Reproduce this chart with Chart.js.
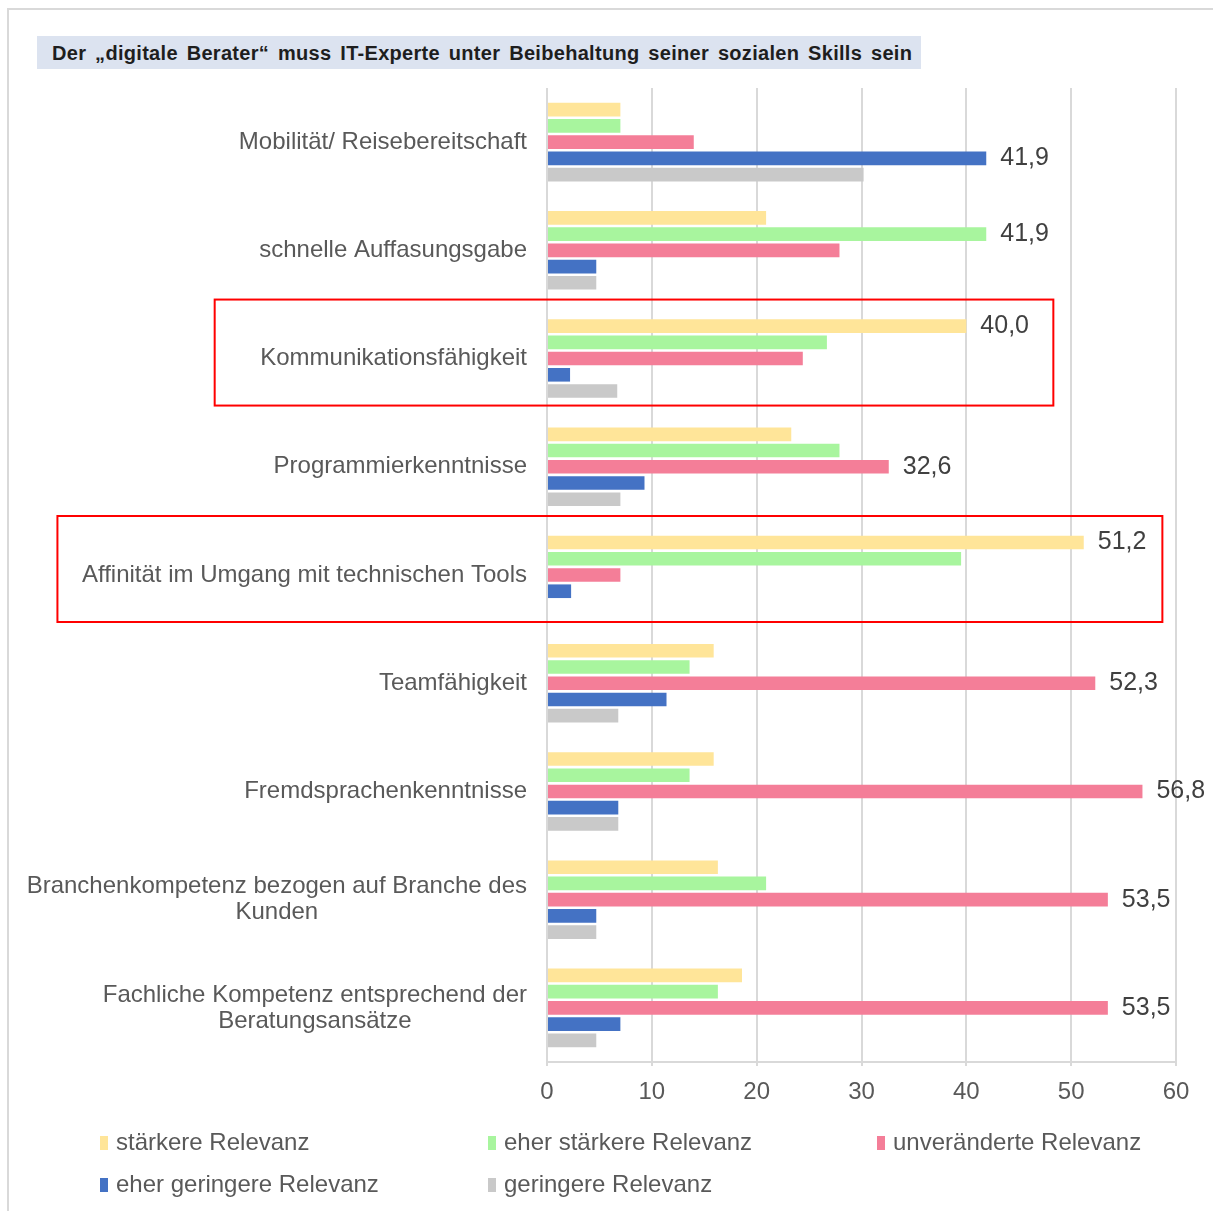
<!DOCTYPE html>
<html>
<head>
<meta charset="utf-8">
<script src="https://cdn.jsdelivr.net/npm/chart.js@4/dist/chart.umd.min.js"></script>
<style>
html, body { margin: 0; padding: 0; background: #fff; }
#wrap { position: relative; width: 1213px; height: 1211px; overflow: hidden; }
#frame { position: absolute; left: 7px; top: 8px; width: 1220px; height: 1220px; border-left: 2px solid #d9d9d9; border-top: 2px solid #d9d9d9; }
#title { position: absolute; left: 37px; top: 36px; width: 884px; height: 33px; background: #dce3f0;
  font: bold 20px "Liberation Sans", Arial, sans-serif; line-height: 34px; color: #1e1e1e;
  padding-left: 15px; box-sizing: border-box; white-space: nowrap; word-spacing: 3px; letter-spacing: 0.3px; }
canvas { position: absolute; left: 0; top: 0; }
</style>
</head>
<body>
<div id="wrap">
  <div id="frame"></div>
  <canvas id="bar-chart" width="1213" height="1211"></canvas>
  <div id="title">Der „digitale Berater“ muss IT-Experte unter Beibehaltung seiner sozialen Skills sein</div>
</div>
<script>
// Kategorien und Anteile in %
const categories = [
  "Mobilität/ Reisebereitschaft",
  "schnelle Auffasungsgabe",
  "Kommunikationsfähigkeit",
  "Programmierkenntnisse",
  "Affinität im Umgang mit technischen Tools",
  "Teamfähigkeit",
  "Fremdsprachenkenntnisse",
  ["Branchenkompetenz bezogen auf Branche des", "Kunden"],
  ["Fachliche Kompetenz entsprechend der", "Beratungsansätze"]
];
const staerkere     = [7.0, 20.9, 40.0, 23.3, 51.2, 15.9, 15.9, 16.3, 18.6];
const eherStaerkere = [7.0, 41.9, 26.7, 27.9, 39.5, 13.6, 13.6, 20.9, 16.3];
const unveraendert  = [14.0, 27.9, 24.4, 32.6, 7.0, 52.3, 56.8, 53.5, 53.5];
const eherGeringere = [41.9, 4.7, 2.2, 9.3, 2.3, 11.4, 6.8, 4.7, 7.0];
const geringere     = [30.2, 4.7, 6.7, 7.0, 0, 6.8, 6.8, 4.7, 4.7];
const xTicks = [0, 10, 20, 30, 40, 50, 60];

// rote Rahmen: Kategorie-Index und x-Ausdehnung in Achseneinheiten
const highlights = [
  { index: 2, from: -31.7, to: 48.3 },
  { index: 4, from: -46.7, to: 58.7 }
];

const FONT = '"Liberation Sans", Arial, sans-serif';

const yLabels = {
  id: 'yLabels',
  afterDraw(chart) {
    const ctx = chart.ctx, y = chart.scales.y;
    ctx.save();
    ctx.font = '24px ' + FONT;
    ctx.fillStyle = '#595959';
    ctx.textAlign = 'center';
    ctx.textBaseline = 'middle';
    chart.data.labels.forEach((lab, i) => {
      const lines = Array.isArray(lab) ? lab : [lab];
      const w = Math.max(...lines.map(l => ctx.measureText(l).width));
      const cx = chart.chartArea.left - 20 - w / 2;
      const cy = y.getPixelForTick(i);
      lines.forEach((l, j) => ctx.fillText(l, cx, cy + (j - (lines.length - 1) / 2) * 26));
    });
    ctx.restore();
  }
};

const valueLabels = {
  id: 'valueLabels',
  afterDatasetsDraw(chart) {
    const ctx = chart.ctx;
    ctx.save();
    ctx.font = '25px ' + FONT;
    ctx.fillStyle = '#404040';
    ctx.textAlign = 'left';
    ctx.textBaseline = 'middle';
    chart.data.labels.forEach((_, i) => {
      let best = 0;
      chart.data.datasets.forEach((ds, d) => { if (ds.data[i] > chart.data.datasets[best].data[i]) best = d; });
      const el = chart.getDatasetMeta(best).data[i];
      const v = chart.data.datasets[best].data[i];
      ctx.fillText(v.toFixed(1).replace('.', ','), el.x + 14, el.y);
    });
    ctx.restore();
  }
};

const boxes = {
  id: 'boxes',
  afterDraw(chart) {
    const ctx = chart.ctx, x = chart.scales.x, y = chart.scales.y;
    ctx.save();
    ctx.strokeStyle = '#ff0000';
    ctx.lineWidth = 2;
    highlights.forEach(h => {
      const cy = y.getPixelForTick(h.index) - 6;
      const x0 = x.getPixelForValue(h.from), x1 = x.getPixelForValue(h.to);
      ctx.strokeRect(x0, cy - 53, x1 - x0, 106);
    });
    ctx.restore();
  }
};

const legendGrid = {
  id: 'legendGrid',
  afterDraw(chart) {
    const ctx = chart.ctx;
    const cols = [100, 488, 877], rows = [1143, 1185];
    ctx.save();
    ctx.font = '24px ' + FONT;
    ctx.textBaseline = 'middle';
    ctx.textAlign = 'left';
    chart.data.datasets.forEach((ds, k) => {
      const lx = cols[k % 3], ly = rows[Math.floor(k / 3)];
      ctx.fillStyle = ds.backgroundColor;
      ctx.fillRect(lx, ly - 7, 8, 14);
      ctx.fillStyle = '#595959';
      ctx.fillText(ds.label, lx + 16, ly);
    });
    ctx.restore();
  }
};

new Chart(document.getElementById("bar-chart"), {
  type: 'bar',
  data: {
    labels: categories,
    datasets: [
      { label: "stärkere Relevanz", backgroundColor: "#ffe599", data: staerkere },
      { label: "eher stärkere Relevanz", backgroundColor: "#a8f59e", data: eherStaerkere },
      { label: "unveränderte Relevanz", backgroundColor: "#f47e98", data: unveraendert },
      { label: "eher geringere Relevanz", backgroundColor: "#4472c4", data: eherGeringere },
      { label: "geringere Relevanz", backgroundColor: "#c9c9c9", data: geringere }
    ]
  },
  options: {
    indexAxis: 'y',
    responsive: false,
    animation: false,
    categoryPercentage: 0.75,
    barPercentage: 0.84,
    layout: { padding: { left: 0, right: 37, top: 88, bottom: 89 } },
    plugins: {
      legend: { display: false },
      title: { display: false },
      tooltip: { enabled: false }
    },
    scales: {
      x: {
        min: 0,
        max: 60,
        afterBuildTicks: s => { s.ticks = xTicks.map(v => ({ value: v })); },
        afterFit: s => { s.height = 60; },
        grid: { color: '#d9d9d9', lineWidth: 2, drawTicks: true, tickLength: 4, tickColor: '#d9d9d9' },
        border: { display: true, color: '#d9d9d9', width: 2 },
        ticks: { color: '#595959', padding: 12, font: { family: FONT, size: 24 } }
      },
      y: {
        afterFit: s => { s.width = 547; },
        grid: { display: false },
        border: { display: false },
        ticks: { color: 'rgba(0,0,0,0)', font: { family: FONT, size: 24 } }
      }
    }
  },
  plugins: [yLabels, valueLabels, boxes, legendGrid]
});
</script>
</body>
</html>
